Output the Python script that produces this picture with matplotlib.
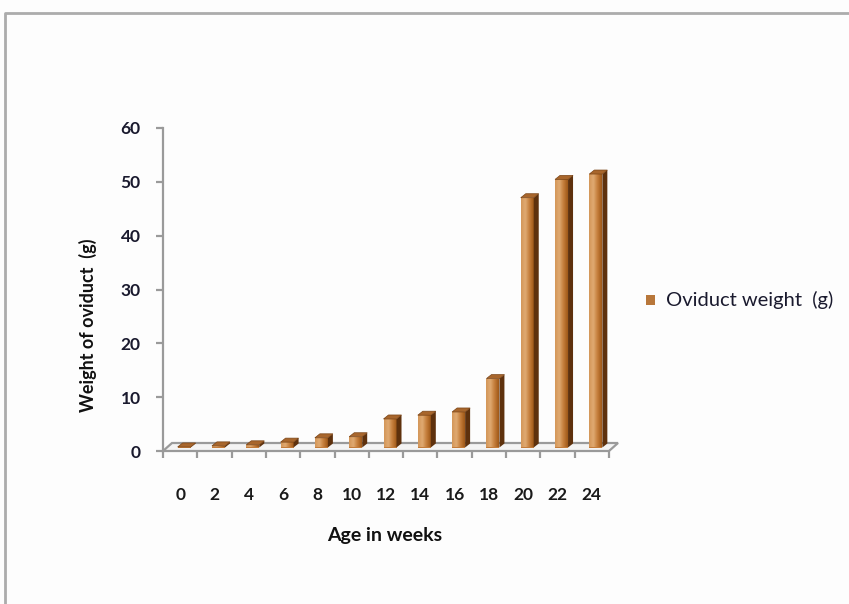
import numpy as np
import matplotlib
matplotlib.use("Agg")
import matplotlib.pyplot as plt
from matplotlib.patches import Polygon, Rectangle
from matplotlib.lines import Line2D
from matplotlib.colors import LinearSegmentedColormap

# Oviduct weight by age
weeks = ["0", "2", "4", "6", "8", "10", "12", "14", "16", "18", "20", "22", "24"]
oviduct_weight = [0.1, 0.3, 0.5, 1.0, 1.8, 2.0, 5.3, 6.0, 6.6, 12.8, 46.4, 49.8, 50.8]
y_ticks = [0, 10, 20, 30, 40, 50, 60]
series_name = "Oviduct weight  (g)"

plt.rcParams["font.family"] = ["Lato", "DejaVu Sans"]

W, H, DPI = 849, 604, 100
fig = plt.figure(figsize=(W / DPI, H / DPI), dpi=DPI)
fig.patch.set_facecolor("#fdfdfd")

# plot area in pixels
px_left, px_right, px_top, px_bottom = 163, 609, 128, 451
ax = fig.add_axes([px_left / W, 1 - px_bottom / H,
                   (px_right - px_left) / W, (px_bottom - px_top) / H])
ax.set_facecolor("none")
n = len(weeks)

ux = (px_right - px_left) / n      # pixels per category
uy = (px_bottom - px_top) / 60.0   # pixels per gram

# 3D look: bars sit halfway into the floor depth
sx, sy = 4 / ux, 3.5 / uy          # bar plane shift
w = 13 / ux                        # front face width
dxs, dys = 5 / ux, 4 / uy          # bar depth
fx, fy = 9 / ux, 8 / uy            # floor depth

grey = "#9a9a9a"

# floor
floor = Polygon([(-0.5, 0), (n - 0.5, 0), (n - 0.5 + fx, fy), (-0.5 + fx, fy)],
                closed=True, facecolor="#f4f4f4", edgecolor=grey, lw=1.6,
                clip_on=False, zorder=1)
ax.add_patch(floor)

x = np.arange(n)
front_cmap = LinearSegmentedColormap.from_list(
    "front", ["#d39658", "#e0aa72", "#c47d3a", "#9e5818"])
grad = np.linspace(0, 1, 64).reshape(1, -1)

bars = ax.bar(x + sx, oviduct_weight, width=w, bottom=sy,
              color="#c47c3a", edgecolor="none", zorder=3, clip_on=False)
for rect, v in zip(bars, oviduct_weight):
    xl = rect.get_x()
    xr = xl + rect.get_width()
    yb = rect.get_y()
    yt = yb + rect.get_height()
    im = ax.imshow(grad, cmap=front_cmap, aspect="auto",
                   extent=(xl, xr, yb, yt), zorder=3.1, interpolation="bicubic")
    im.set_clip_path(rect)
    side = Polygon([(xr, yb), (xr, yt), (xr + dxs, yt + dys), (xr + dxs, yb + dys)],
                   closed=True, facecolor="#5e310d", edgecolor="none",
                   zorder=3.2, clip_on=False)
    top = Polygon([(xl, yt), (xr, yt), (xr + dxs, yt + dys), (xl + dxs, yt + dys)],
                  closed=True, facecolor="#a8662c", edgecolor="#7a4416", lw=0.5,
                  zorder=3.2, clip_on=False)
    ax.add_patch(side)
    ax.add_patch(top)
ax.set_xlim(-0.5, n - 0.5)
ax.set_ylim(0, 60)

# axes styling
for s in ["top", "right", "bottom"]:
    ax.spines[s].set_visible(False)
ax.spines["left"].set_color(grey)
ax.spines["left"].set_linewidth(1.6)
ax.set_yticks(y_ticks)
ax.tick_params(axis="y", direction="out", length=5, width=1.6, color=grey,
               pad=11, labelsize=12.5, labelcolor="#1a1a2e")
for t in ax.get_yticklabels():
    t.set_fontweight("bold")

ax.set_xticks(x)
ax.set_xticklabels(weeks)
ax.set_xticks(np.arange(-0.5, n, 1.0), minor=True)
ax.tick_params(axis="x", which="major", length=0, pad=26, labelsize=12.5,
               labelcolor="#1a1a1a")
ax.tick_params(axis="x", which="minor", direction="out", length=5, width=1.6,
               color=grey)
for t in ax.get_xticklabels():
    t.set_fontweight("bold")

# axis titles
fig.text(88 / W, 1 - 325 / H, "Weight of oviduct  (g)", rotation=90,
         ha="center", va="center", fontsize=13, fontweight="bold", color="#111111")
fig.text(385 / W, 1 - 535 / H, "Age in weeks", ha="center", va="center",
         fontsize=14, fontweight="bold", color="#111111")

# legend
fig.patches.append(Rectangle((646 / W, 1 - 305 / H), 9 / W, 10 / H,
                             transform=fig.transFigure, facecolor="#b8773a",
                             edgecolor="none"))
fig.text(666 / W, 1 - 300 / H, series_name, ha="left", va="center",
         fontsize=14.5, color="#1a1a2e")

# chart frame
fig.lines.append(Line2D([5 / W, 5 / W, 1.0], [0.0, 1 - 13 / H, 1 - 13 / H],
                        transform=fig.transFigure, color="#acacac", lw=2))

fig.savefig("out.png", dpi=DPI, facecolor=fig.get_facecolor())
